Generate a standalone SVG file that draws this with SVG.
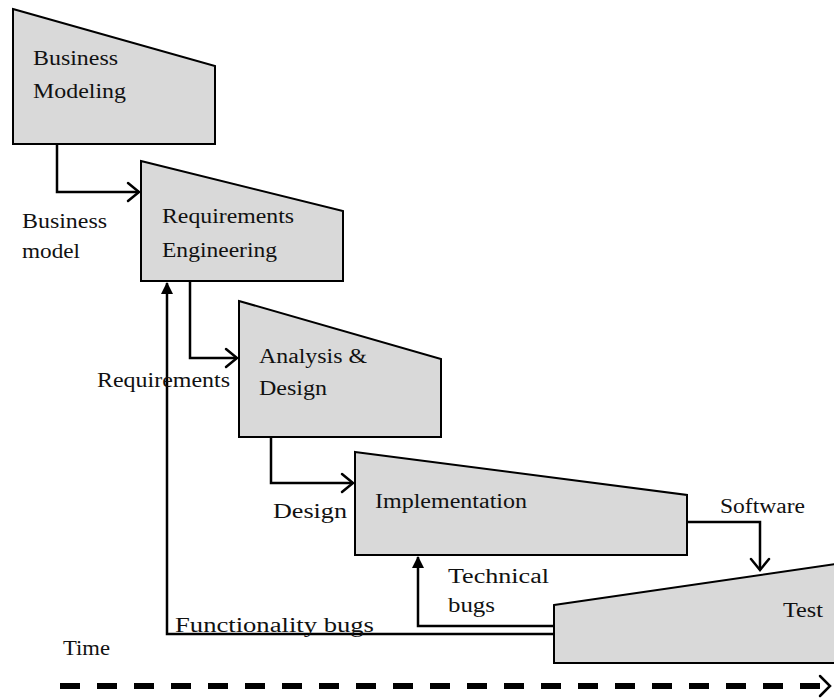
<svg xmlns="http://www.w3.org/2000/svg" width="834" height="698" viewBox="0 0 834 698">
<defs>
<style>
.box{fill:#d9d9d9;stroke:#000;stroke-width:2}
.t{font-family:'Liberation Serif','Times New Roman',serif;font-size:20px;fill:#111}
.c{fill:none;stroke:#000;stroke-width:2.5}
.open{fill:none;stroke:#000;stroke-width:2.5;stroke-linecap:round}
</style>
<marker id="filled" viewBox="0 0 12 12" refX="11" refY="6" markerWidth="12" markerHeight="12" markerUnits="userSpaceOnUse" orient="auto">
<path d="M0,0 L12,6 L0,12 Z" fill="#000"/>
</marker>
</defs>
<rect width="834" height="698" fill="#fff"/>
<g id="business-modeling">
<polygon class="box" points="13,9 215,66 215,144 13,144"/>
<text class="t" x="33" y="65" textLength="85" lengthAdjust="spacingAndGlyphs">Business</text>
<text class="t" x="33" y="98" textLength="93" lengthAdjust="spacingAndGlyphs">Modeling</text>
</g>
<g id="requirements-engineering">
<polygon class="box" points="141,161 343,211 343,281 141,281"/>
<text class="t" x="162" y="223" textLength="132" lengthAdjust="spacingAndGlyphs">Requirements</text>
<text class="t" x="162" y="257" textLength="115" lengthAdjust="spacingAndGlyphs">Engineering</text>
</g>
<g id="analysis-design">
<polygon class="box" points="239,301 441,359 441,437 239,437"/>
<text class="t" x="259" y="363" textLength="108" lengthAdjust="spacingAndGlyphs">Analysis &amp;</text>
<text class="t" x="259" y="395" textLength="68" lengthAdjust="spacingAndGlyphs">Design</text>
</g>
<g id="implementation">
<polygon class="box" points="355,452 687,495 687,555 355,555"/>
<text class="t" x="375" y="508" textLength="152" lengthAdjust="spacingAndGlyphs">Implementation</text>
</g>
<g id="test">
<polygon class="box" points="554,605 836,564 836,663 554,663"/>
<text class="t" x="783" y="617" textLength="40" lengthAdjust="spacingAndGlyphs">Test</text>
</g>
<g id="connectors">
<polyline class="c" points="57,144 57,192 139,192"/>
<polyline class="open" points="128,183 139,192 128,201"/>
<polyline class="c" points="190,281 190,358 237,358"/>
<polyline class="open" points="226,349 237,358 226,367"/>
<polyline class="c" points="271,437 271,483 353,483"/>
<polyline class="open" points="342,474 353,483 342,492"/>
<polyline class="c" points="687,522 760,522 760,570"/>
<polyline class="open" points="751,559 760,570 769,559"/>
<polyline class="c" points="554,626 418,626 418,557" marker-end="url(#filled)"/>
<polyline class="c" points="554,634 167,634 167,283" marker-end="url(#filled)"/>
<line x1="60" y1="686" x2="826" y2="686" stroke="#000" stroke-width="6" stroke-dasharray="20,17"/>
<polyline class="open" points="820,676 830,686 820,696" stroke-width="3.5"/>
</g>
<g id="labels">
<text class="t" x="22" y="228" textLength="85" lengthAdjust="spacingAndGlyphs">Business</text>
<text class="t" x="22" y="258" textLength="58" lengthAdjust="spacingAndGlyphs">model</text>
<text class="t" x="97" y="387" textLength="133" lengthAdjust="spacingAndGlyphs">Requirements</text>
<text class="t" x="273" y="518" textLength="74" lengthAdjust="spacingAndGlyphs">Design</text>
<text class="t" x="720" y="513" textLength="85" lengthAdjust="spacingAndGlyphs">Software</text>
<text class="t" x="448" y="583" textLength="101" lengthAdjust="spacingAndGlyphs">Technical</text>
<text class="t" x="448" y="612" textLength="47" lengthAdjust="spacingAndGlyphs">bugs</text>
<text class="t" x="175" y="632" textLength="199" lengthAdjust="spacingAndGlyphs">Functionality bugs</text>
<text class="t" x="63" y="655" textLength="47" lengthAdjust="spacingAndGlyphs">Time</text>
</g>
</svg>
